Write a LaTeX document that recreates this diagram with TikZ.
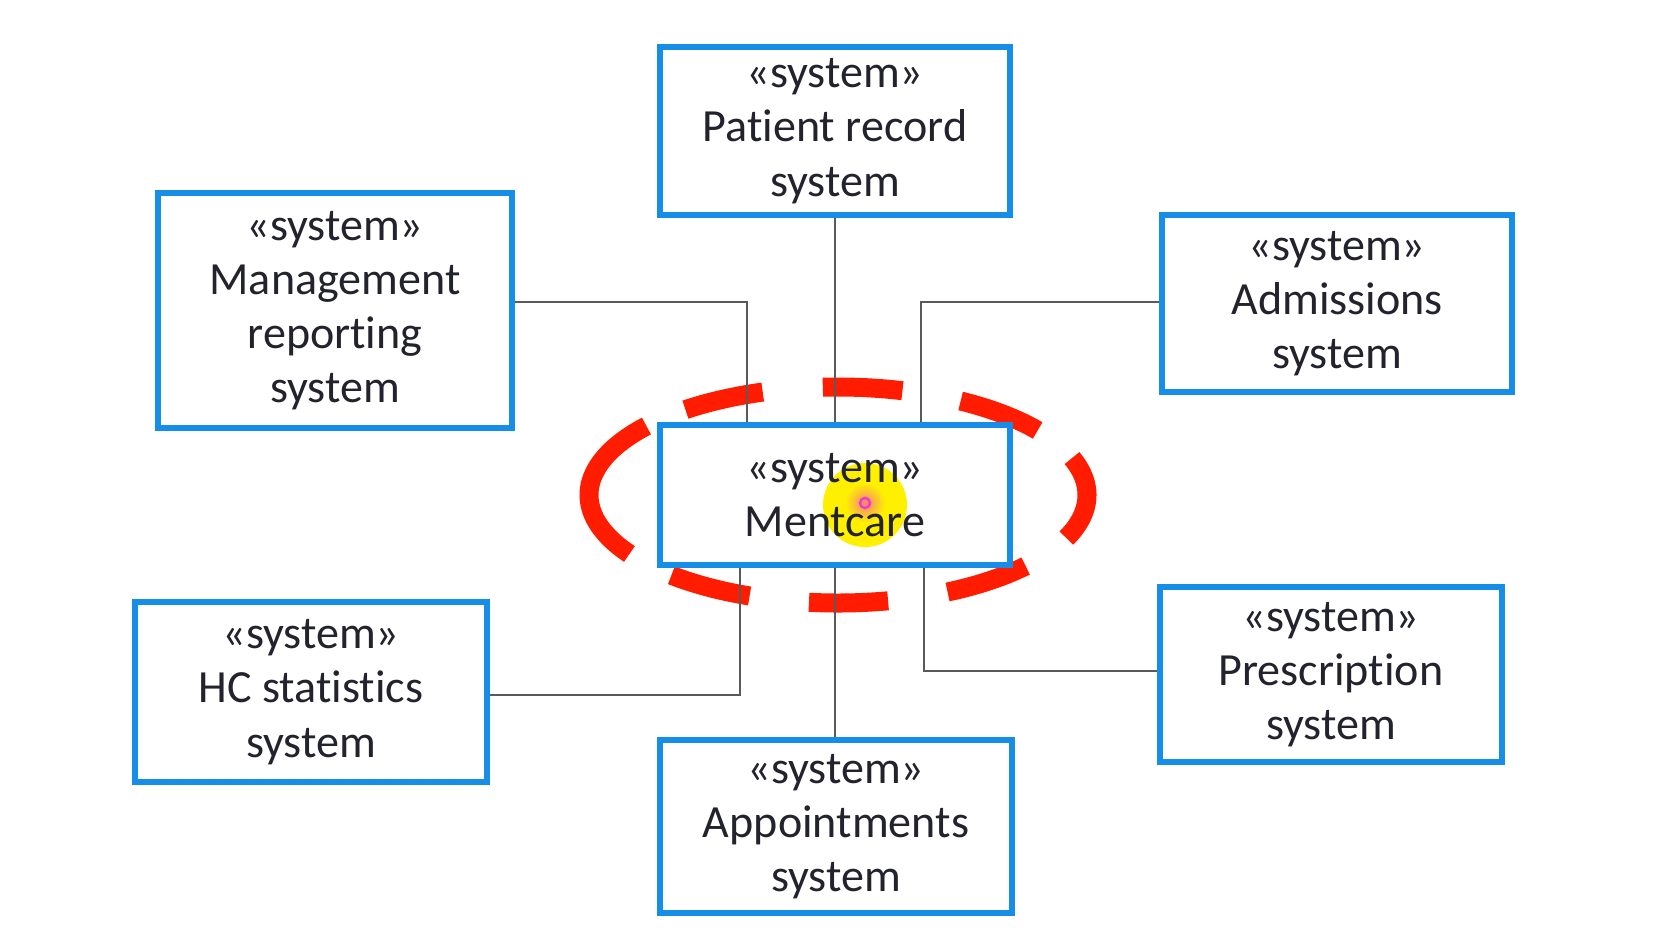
\documentclass[tikz,border=0pt]{standalone}
\usepackage{fontspec}
\setmainfont[Ligatures={NoCommon,NoRequired,NoContextual}]{Carlito}
\definecolor{boxblue}{RGB}{22,142,232}
\definecolor{dashred}{RGB}{255,28,0}
\definecolor{conngray}{RGB}{90,90,90}
\definecolor{txt}{RGB}{35,35,45}
\definecolor{hlyellow}{RGB}{255,240,0}
\definecolor{hlpink}{RGB}{240,60,200}
\tikzset{
  sysbox/.style={draw=boxblue, line width=0.06cm, align=center, inner sep=0pt,
    text=txt, font=\fontsize{13.1pt}{15.4pt}\selectfont},
  conn/.style={draw=conngray, line width=0.022cm},
  reddash/.style={draw=dashred, line width=0.19cm, line cap=butt},
}
\begin{document}
\begin{tikzpicture}[x=0.01cm, y=-0.01cm]
\useasboundingbox (0,0) rectangle (1671,927);

% cursor highlight
\fill[hlyellow] (865,505) circle [radius=42];
\shade[inner color=hlpink!60!hlyellow, outer color=hlyellow] (865,503) circle [radius=20];
\draw[hlpink, line width=0.025cm] (865,503) circle [radius=5];

% dashed red ellipse
\foreach \a/\b in {75/93.5, 107.6/127.8, 140.3/213.1, 228/249.2, 263.3/281.6, 296.1/318.9, 336.5/380, 36.7/60.5}{
  \draw[reddash] plot[domain=\a:\b, samples=30, smooth] ({838+249*cos(\x)},{495-108*sin(\x)});
}

% nodes
\node[sysbox, minimum width=3.50cm, minimum height=1.68cm] (pat) at (835,131) {«system»\\Patient record\\system};
\node[sysbox, minimum width=3.54cm, minimum height=2.35cm] (mgmt) at (335,310.5) {«system»\\Management\\reporting\\system};
\node[sysbox, minimum width=3.50cm, minimum height=1.77cm] (adm) at (1337,303.5) {«system»\\Admissions\\system};
\node[sysbox, minimum width=3.52cm, minimum height=1.80cm] (hc) at (311,692) {«system»\\HC statistics\\system};
\node[sysbox, minimum width=3.52cm, minimum height=1.73cm] (appt) at (836,826.5) {«system»\\Appointments\\system};
\node[sysbox, minimum width=3.42cm, minimum height=1.75cm] (presc) at (1331,674.5) {«system»\\Prescription\\system};
\node[sysbox, minimum width=3.50cm, minimum height=1.40cm] (ment) at (835,495) {«system»\\Mentcare};

% connector bends
\coordinate (kmg) at (747,302);
\coordinate (kad) at (921,302);
\coordinate (khc) at (740,695);
\coordinate (kpr) at (924,671);

\draw[conn] (pat.south) -- (ment.north);
\draw[conn] (ment.south) -- (ment.south |- appt.north);
\draw[conn] (mgmt.east |- kmg) -| (kmg |- ment.north);
\draw[conn] (adm.west |- kad) -| (kad |- ment.north);
\draw[conn] (hc.east |- khc) -| (khc |- ment.south);
\draw[conn] (presc.west |- kpr) -| (kpr |- ment.south);
\end{tikzpicture}
\end{document}
